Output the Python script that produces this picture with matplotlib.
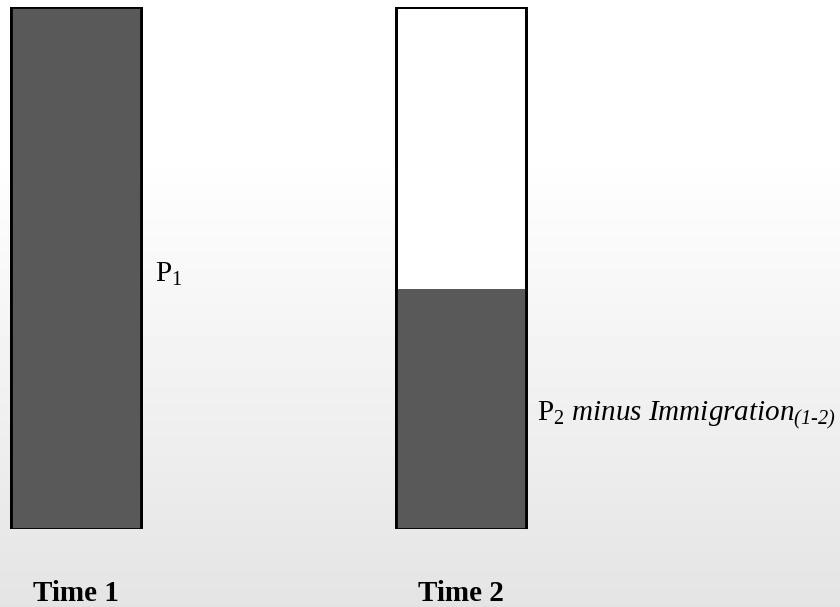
import matplotlib.pyplot as plt
import numpy as np

# chart values
periods = ['Time 1', 'Time 2']
total_pop = [100, 100]        # height of each bar (P1, P2)
native_pop = [100, 46]        # dark part: P1, P2 minus immigration
bar_labels = [r'P$_1$', r'P$_2$ $\mathit{minus\ Immigration}_{\mathsf{(1‐2)}}$']

plt.rcParams['font.family'] = 'Liberation Serif'
plt.rcParams['mathtext.fontset'] = 'custom'
plt.rcParams['mathtext.rm'] = 'Liberation Serif'
plt.rcParams['mathtext.it'] = 'Liberation Serif:italic'
plt.rcParams['mathtext.sf'] = 'Liberation Serif:italic'  # italic digits for the subscript

fig = plt.figure(figsize=(8.4, 6.07), dpi=100)

# soft grey gradient background
bg = fig.add_axes([0, 0, 1, 1], zorder=-1)
rows = np.linspace(0, 1, 607)
shade = np.where(rows < 0.25, 255, 255 - (rows - 0.25) / 0.75 * 27) / 255
bg.imshow(np.tile(shade[:, None], (1, 10)), cmap='gray', vmin=0, vmax=1,
          aspect='auto', extent=[0, 1, 0, 1])
bg.axis('off')

ax = fig.add_axes([0, 0.1285, 1, 0.8604])
ax.patch.set_alpha(0)
x = np.arange(len(periods))
w = 0.338
ax.bar(x, total_pop, width=w, color='white', edgecolor='black', linewidth=2)
ax.bar(x, native_pop, width=w, color='#595959', edgecolor='none')
ax.bar(x, total_pop, width=w, color='none', edgecolor='black', linewidth=2)

ax.set_xlim(-0.1974, 1.984)
ax.set_ylim(0, 100)
for s in ax.spines.values():
    s.set_visible(False)
ax.set_yticks([])
ax.set_xticks(x)
ax.set_xticklabels(periods, fontsize=21, fontweight='bold')
ax.tick_params(axis='x', length=0, pad=37)

# labels next to the bars
ax.annotate(bar_labels[0], (x[0] + w / 2, native_pop[0] / 2 - 1.2), xytext=(10, 0),
            textcoords='offset points', fontsize=21, va='center', ha='left')
ax.annotate(bar_labels[1], (x[1] + w / 2, native_pop[1] / 2 - 1.2), xytext=(8, 0),
            textcoords='offset points', fontsize=21, va='center', ha='left')

fig.savefig('out.png', dpi=100)
